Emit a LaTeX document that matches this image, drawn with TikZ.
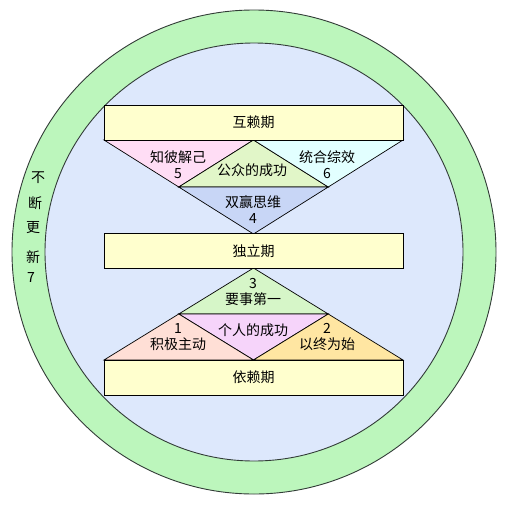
\documentclass[tikz,border=0pt]{standalone}
\usepackage{fontspec}
\newfontfamily\cjk{Noto Sans CJK SC}
\definecolor{ringgreen}{RGB}{188,246,188}
\definecolor{innerblue}{RGB}{221,232,252}
\definecolor{periodyellow}{RGB}{255,255,206}
\definecolor{zhibipink}{RGB}{255,221,245}
\definecolor{gongzhonggreen}{RGB}{225,246,200}
\definecolor{tongheccyan}{RGB}{226,255,255}
\definecolor{shuangyingblue}{RGB}{200,214,246}
\definecolor{yaoshigreen}{RGB}{214,246,200}
\definecolor{gerenviolet}{RGB}{246,212,250}
\definecolor{jijisalmon}{RGB}{255,223,214}
\definecolor{yizhongorange}{RGB}{255,230,162}
\definecolor{edgegray}{RGB}{50,60,55}

\begin{document}
\begin{tikzpicture}[x=1pt,y=-1pt,
  every node/.style={font=\cjk\fontsize{14}{16}\selectfont, align=center, inner sep=0pt},
  period/.style={draw=black, line width=0.8pt, fill=periodyellow, minimum width=299pt, minimum height=35pt},
  piece/.style={draw=black, line width=0.7pt, line join=miter}]
  \useasboundingbox (0,0) rectangle (506,509);
  \fill[white] (0,0) rectangle (506,509);

  % ring and inner disc
  \draw[edgegray, line width=0.9pt, fill=ringgreen] (254,252) circle (242pt);
  \draw[edgegray, line width=0.9pt, fill=innerblue] (254,252) circle (209pt);

  % upper triangle
  \coordinate (tA) at (104,140);
  \coordinate (tB) at (253.5,140);
  \coordinate (tC) at (403,140);
  \coordinate (tD) at (178.75,187);
  \coordinate (tE) at (328.25,187);
  \coordinate (tF) at (253.5,234);
  \filldraw[piece, fill=zhibipink] (tA) -- (tB) -- (tD) -- cycle;
  \filldraw[piece, fill=gongzhonggreen] (tB) -- (tE) -- (tD) -- cycle;
  \filldraw[piece, fill=tongheccyan] (tB) -- (tC) -- (tE) -- cycle;
  \filldraw[piece, fill=shuangyingblue] (tD) -- (tE) -- (tF) -- cycle;

  % lower triangle
  \coordinate (bA) at (253.5,268);
  \coordinate (bB) at (178.75,314);
  \coordinate (bC) at (328.25,314);
  \coordinate (bD) at (104,360);
  \coordinate (bE) at (253.5,360);
  \coordinate (bF) at (403,360);
  \filldraw[piece, fill=yaoshigreen] (bA) -- (bC) -- (bB) -- cycle;
  \filldraw[piece, fill=gerenviolet] (bB) -- (bC) -- (bE) -- cycle;
  \filldraw[piece, fill=jijisalmon] (bB) -- (bE) -- (bD) -- cycle;
  \filldraw[piece, fill=yizhongorange] (bC) -- (bF) -- (bE) -- cycle;

  % periods
  \node[period] (hulai) at (253.5,122.5) {互赖期};
  \node[period] (duli) at (253.5,251) {独立期};
  \node[period] (yilai) at (253.5,377.5) {依赖期};

  % habits
  \node (zhibi) at (178,164.5) {知彼解己\\5};
  \node (gongzhong) at (252,170) {公众的成功};
  \node (tonghe) at (327,164.5) {统合综效\\6};
  \node (shuangying) at (253,209.5) {双赢思维\\4};
  \node (yaoshi) at (253,291.5) {3\\要事第一};
  \node (jiji) at (178,337) {1\\积极主动};
  \node (geren) at (253,330) {个人的成功};
  \node (yizhong) at (327,337) {2\\以终为始};

  % renewal
  \node (bu) at (38,178) {不};
  \node (duan) at (35,203) {断};
  \node (geng) at (33,228) {更};
  \node (xin) at (33,257) {新};
  \node (qi) at (31,278) {7};
\end{tikzpicture}
\end{document}
